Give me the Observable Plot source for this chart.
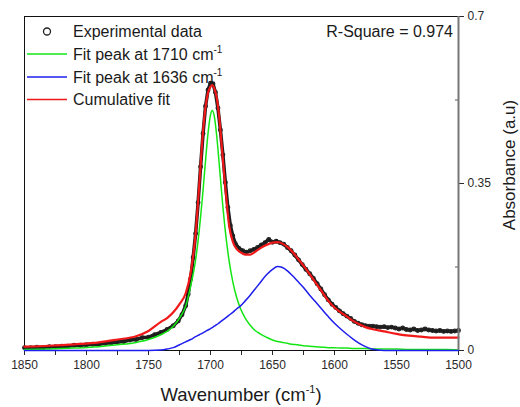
<!DOCTYPE html>
<html><head><meta charset="utf-8">
<script src="https://cdn.jsdelivr.net/npm/d3@7"></script>
<script src="https://cdn.jsdelivr.net/npm/@observablehq/plot@0.6"></script>
<style>body{margin:0;background:#fff;} #chart{width:520px;height:407px;}</style>
</head><body><div id="chart"></div>
<script>
// ---- data ----
const xDomain = [1850, 1500];
const yDomain = [0, 0.7];
const xTicks = [1850, 1800, 1750, 1700, 1650, 1600, 1550, 1500];
const xMinor = [1825, 1775, 1725, 1675, 1625, 1575, 1525];
const yTicks = [0, 0.35, 0.7];
const yMinor = [0.175, 0.525];

// wavenumbers for the fitted curves
const wnFit = [1850,1830,1810,1790,1775,1760,1750,1740,1735,1730,
  1725,1720,1716,1712,1709,1706,1704,1702,1700,1698.6,
  1697,1695,1693,1691,1688,1685,1682,1679,1676,1672,
  1668,1664,1660,1655,1650,1646,1642,1638,1634,1630,
  1625,1620,1615,1610,1605,1600,1595,1590,1585,1580,
  1575,1570,1560,1550,1540,1530,1520,1510,1500];
const greenFit = [0.002,0.003,0.005,0.008,0.012,0.017,0.023,0.033,0.040,0.051,
  0.068,0.093,0.135,0.190,0.254,0.336,0.398,0.455,0.494,0.503,
  0.492,0.450,0.392,0.330,0.249,0.188,0.144,0.112,0.089,0.068,
  0.053,0.042,0.035,0.028,0.022,0.019,0.017,0.015,0.013,0.012,
  0.010,0.009,0.008,0.007,0.006,0.006,0.005,0.005,0.004,0.004,
  0.004,0.003,0.003,0.003,0.002,0.002,0.002,0.002,0.001];
const blueFit = [0,0,0,0,0,0,0,0.001,0.003,0.006,
  0.012,0.018,0.023,0.029,0.033,0.037,0.040,0.043,0.046,0.048,
  0.051,0.054,0.058,0.062,0.068,0.074,0.080,0.087,0.093,0.104,
  0.116,0.129,0.142,0.158,0.170,0.176,0.174,0.167,0.157,0.146,
  0.132,0.116,0.101,0.086,0.071,0.057,0.045,0.034,0.024,0.015,
  0.008,0.003,0,0,0,0,0,0,0];
const cumulativeFit = [0.008,0.010,0.013,0.017,0.023,0.030,0.041,0.060,0.068,0.080,
  0.097,0.120,0.163,0.245,0.350,0.460,0.510,0.540,0.553,0.556,
  0.550,0.530,0.490,0.430,0.340,0.262,0.228,0.213,0.206,0.201,
  0.201,0.207,0.214,0.221,0.226,0.227,0.224,0.217,0.207,0.194,
  0.178,0.160,0.141,0.123,0.104,0.090,0.080,0.071,0.062,0.055,
  0.049,0.045,0.040,0.035,0.031,0.029,0.027,0.027,0.027];

// experimental spectrum
const wnExp = [1850,1845,1840,1835,1830,1825,1820,1815,1810,1805,
  1800,1795,1790,1785,1780,1775,1770,1765,1760,1755,
  1750,1745,1740,1735,1730,1726,1723,1720,1718,1716,
  1714,1712,1710,1708,1706,1704,1702,1700,1698,1696,
  1694,1692,1690,1688,1686,1684,1682,1680,1677,1674,
  1671,1668,1665,1662,1659,1656,1653,1650,1647,1644,
  1641,1638,1635,1632,1629,1626,1623,1620,1617,1614,
  1611,1608,1605,1602,1599,1596,1593,1590,1587,1584,
  1581,1578,1575,1572,1569,1566,1563,1560,1557,1554,
  1551,1548,1545,1542,1539,1536,1533,1530,1527,1524,
  1521,1518,1515,1512,1509,1506,1503,1500];
const absExp = [0.006,0.006,0.007,0.006,0.008,0.008,0.009,0.009,0.011,0.011,
  0.012,0.013,0.013,0.015,0.016,0.018,0.019,0.022,0.023,0.027,
  0.028,0.033,0.038,0.044,0.052,0.062,0.075,0.094,0.118,0.150,
  0.195,0.245,0.310,0.385,0.455,0.512,0.546,0.560,0.559,0.541,
  0.508,0.462,0.410,0.352,0.300,0.262,0.240,0.224,0.214,0.209,
  0.206,0.209,0.212,0.216,0.221,0.226,0.233,0.227,0.229,0.226,
  0.223,0.216,0.209,0.200,0.190,0.180,0.170,0.161,0.151,0.140,
  0.129,0.117,0.106,0.097,0.090,0.083,0.077,0.072,0.067,0.061,
  0.057,0.054,0.052,0.051,0.051,0.050,0.049,0.050,0.048,0.049,
  0.047,0.045,0.047,0.044,0.043,0.045,0.042,0.043,0.045,0.043,
  0.042,0.041,0.042,0.040,0.041,0.040,0.041,0.042];

const legendLabels = ["Experimental data", "Fit peak at 1710 cm", "Fit peak at 1636 cm", "Cumulative fit"];
const rSquareText = "R-Square = 0.974";
const xLabel = "Wavenumber (cm";
const yLabel = "Absorbance (a.u)";

// ---- build ----
const GREEN = "#14e614", BLUE = "#1e1eee", RED = "#f01818", DATA = "#1c1c1c";
const fitRows = wnFit.map((w, i) => ({w, green: greenFit[i], blue: blueFit[i], red: cumulativeFit[i]}));
const expRows = wnExp.map((w, i) => ({w, v: absExp[i]}));
const FONT = "'Liberation Sans', Arial, Helvetica, sans-serif";

const plot = Plot.plot({
  width: 520, height: 407,
  marginLeft: 24, marginRight: 62, marginTop: 16, marginBottom: 57,
  style: {fontFamily: FONT, color: "#2a2a2a", background: "#fff"},
  x: {domain: xDomain},
  y: {domain: yDomain},
  marks: [
    Plot.axisX({ticks: xTicks, tickSize: 5, tickPadding: 5, fontSize: 12, label: null, tickFormat: d => String(d)}),
    Plot.axisX({ticks: xMinor, tickSize: 5, tickFormat: () => "", label: null}),
    Plot.axisY({anchor: "right", ticks: yTicks, tickSize: 5, tickPadding: 4, fontSize: 12, label: null, tickFormat: d => String(d)}),
    Plot.tickY(yMinor, {y: d => d, insetLeft: 431, stroke: "#555"}),
    Plot.frame({stroke: "#111", strokeWidth: 1}),
    Plot.line(expRows, {x: "w", y: "v", stroke: DATA, strokeWidth: 3.5}),
    Plot.dot(expRows, {x: "w", y: "v", r: 1.9, stroke: "#222", strokeWidth: 1.1, fill: "none"}),
    Plot.line(fitRows, {x: "w", y: "green", stroke: GREEN, strokeWidth: 1.5, curve: "monotone-x"}),
    Plot.line(fitRows, {x: "w", y: "blue", stroke: BLUE, strokeWidth: 1.5, curve: "monotone-x"}),
    Plot.line(fitRows, {x: "w", y: "red", stroke: RED, strokeWidth: 2.2, curve: "monotone-x"}),
    Plot.ruleX([xDomain[1]], {stroke: "#777", strokeWidth: 2})
  ]
});
document.getElementById("chart").appendChild(plot);

const svg = d3.select(plot);
const g = svg.append("g").attr("font-family", FONT).attr("fill", "#1a1a1a").attr("text-anchor", "start");
// legend
const legY = [31.5, 54, 77, 99.5];
const legColors = [null, GREEN, BLUE, RED];
legendLabels.forEach((lab, i) => {
  if (i === 0) {
    g.append("circle").attr("cx", 47).attr("cy", legY[i]).attr("r", 3.5)
      .attr("fill", "none").attr("stroke", "#222").attr("stroke-width", 1.3);
  } else {
    g.append("line").attr("x1", 27).attr("x2", 67).attr("y1", legY[i]).attr("y2", legY[i])
      .attr("stroke", legColors[i]).attr("stroke-width", 1.5);
  }
  const t = g.append("text").attr("x", 73).attr("y", legY[i] + 5.7).attr("font-size", 16).attr("text-anchor", "start");
  t.append("tspan").text(lab);
  if (i === 1 || i === 2) {
    t.append("tspan").attr("font-size", 10).attr("dy", -6.5).text("-1");
  }
});
// R-square
g.append("text").attr("x", 453).attr("y", 37).attr("text-anchor", "end").attr("font-size", 16).text(rSquareText);
// x label
const xl = g.append("text").attr("x", 241).attr("y", 401).attr("text-anchor", "middle").attr("font-size", 18.5);
xl.append("tspan").text(xLabel);
xl.append("tspan").attr("font-size", 11).attr("dy", -8).text("-1");
xl.append("tspan").attr("dy", 8).text(")");
// y label
g.append("text").attr("transform", "translate(515,165) rotate(-90)").attr("text-anchor", "middle")
  .attr("font-size", 17).text(yLabel);
</script>
</body></html>
